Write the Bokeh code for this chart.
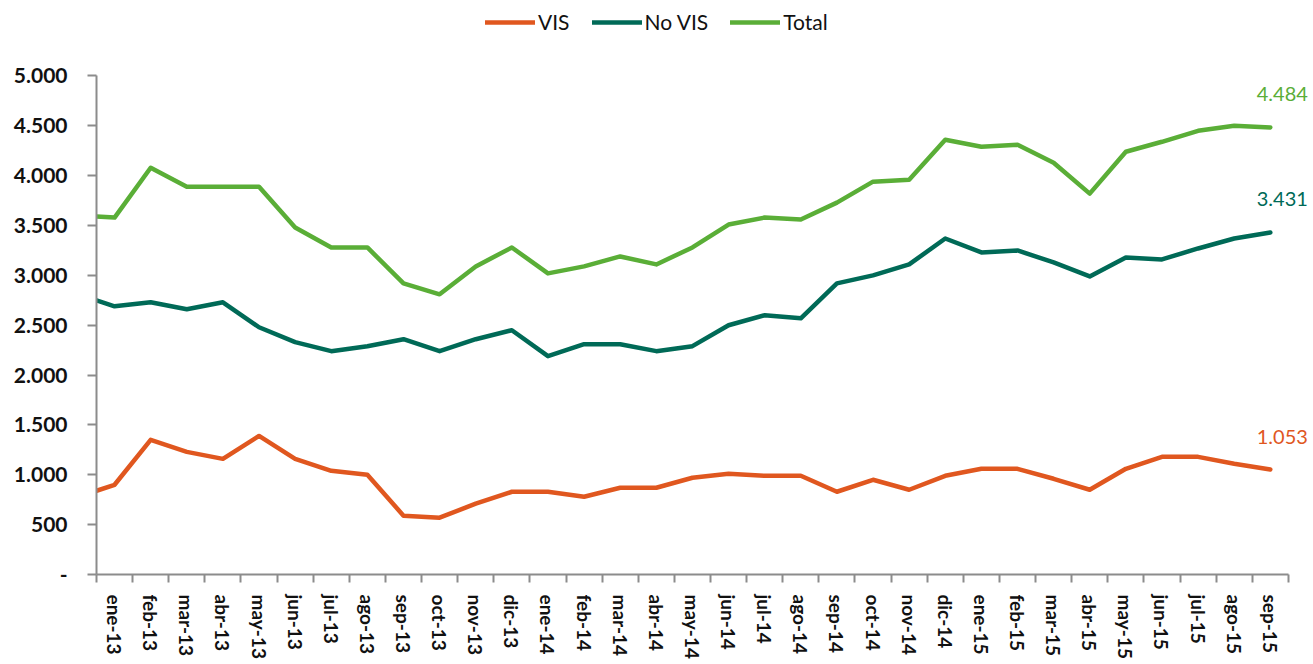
from bokeh.plotting import figure
from bokeh.models import Range1d, FixedTicker, Legend, LegendItem, Label
from bokeh.embed import file_html
from bokeh.resources import INLINE

# ---- data ----
months = ["ene-13", "feb-13", "mar-13", "abr-13", "may-13", "jun-13", "jul-13",
          "ago-13", "sep-13", "oct-13", "nov-13", "dic-13", "ene-14", "feb-14",
          "mar-14", "abr-14", "may-14", "jun-14", "jul-14", "ago-14", "sep-14",
          "oct-14", "nov-14", "dic-14", "ene-15", "feb-15", "mar-15", "abr-15",
          "may-15", "jun-15", "jul-15", "ago-15", "sep-15"]

# first value is the opening point drawn at the left edge of the axis
vis = [840, 900, 1350, 1230, 1160, 1390, 1160, 1040, 1000, 590, 570, 710, 830,
       830, 780, 870, 870, 970, 1010, 990, 990, 830, 950, 850, 990, 1060, 1060,
       960, 850, 1060, 1180, 1180, 1110, 1053]
no_vis = [2750, 2690, 2730, 2660, 2730, 2480, 2330, 2240, 2290, 2360, 2240, 2360,
          2450, 2190, 2310, 2310, 2240, 2290, 2500, 2600, 2570, 2920, 3000, 3110,
          3370, 3230, 3250, 3130, 2990, 3180, 3160, 3270, 3370, 3431]
total = [3590, 3580, 4080, 3890, 3890, 3890, 3480, 3280, 3280, 2920, 2810, 3090,
         3280, 3020, 3090, 3190, 3110, 3280, 3510, 3580, 3560, 3730, 3940, 3960,
         4360, 4290, 4310, 4130, 3820, 4240, 4340, 4450, 4500, 4484]

series_names = ["VIS", "No VIS", "Total"]
series_colors = ["#E0571F", "#006A57", "#5AAE37"]
y_ticks = list(range(0, 5001, 500))

x = [-0.5] + list(range(len(months)))

def fmt(v):
    return "-" if v == 0 else f"{v:,}".replace(",", ".")

FONT = "Lato"
GRAY = "#8C8C8C"

x_lo, x_hi = -0.5, len(months) - 0.5
y_lo, y_hi = 0, 5000

# frame is extended to the right and top (free space for legend & value labels);
# the axes themselves are bounded to the data extent
p = figure(width=1313, height=664, output_backend="svg", toolbar_location=None,
           x_range=Range1d(x_lo, 33.14), y_range=Range1d(y_lo, 5757),
           min_border_left=96, min_border_right=2, min_border_top=0,
           min_border_bottom=90)
p.outline_line_color = None
p.grid.visible = False
p.background_fill_color = "white"
p.border_fill_color = "white"

# x axis
p.xaxis.bounds = (x_lo, x_hi)
p.xaxis.ticker = FixedTicker(ticks=list(range(len(months))),
                             minor_ticks=[i - 0.5 for i in range(len(months) + 1)])
p.xaxis.major_label_overrides = {i: m for i, m in enumerate(months)}
p.xaxis.major_tick_out = 0
p.xaxis.major_tick_in = 0
p.xaxis.major_tick_line_color = None
p.xaxis.minor_tick_out = 8
p.xaxis.minor_tick_in = 0
p.xaxis.minor_tick_line_color = GRAY
p.xaxis.minor_tick_line_width = 2
p.xaxis.axis_line_color = GRAY
p.xaxis.axis_line_width = 2
p.xaxis.major_label_orientation = "vertical"
p.xaxis.major_label_standoff = 12
p.xaxis.major_label_text_font = FONT
p.xaxis.major_label_text_font_style = "bold"
p.xaxis.major_label_text_font_size = "19px"
p.xaxis.major_label_text_color = "#111111"

# y axis
p.yaxis.bounds = (y_lo, y_hi)
p.yaxis.ticker = FixedTicker(ticks=y_ticks, minor_ticks=[])
p.yaxis.major_label_overrides = {t: fmt(t) for t in y_ticks}
p.yaxis.major_tick_out = 9
p.yaxis.major_tick_in = 0
p.yaxis.major_tick_line_color = GRAY
p.yaxis.major_tick_line_width = 2
p.yaxis.minor_tick_line_color = None
p.yaxis.axis_line_color = GRAY
p.yaxis.axis_line_width = 2
p.yaxis.major_label_standoff = 20
p.yaxis.major_label_text_font = FONT
p.yaxis.major_label_text_font_style = "bold"
p.yaxis.major_label_text_font_size = "21px"
p.yaxis.major_label_text_color = "#111111"

items = []
for name, vals, col in zip(series_names, [vis, no_vis, total], series_colors):
    r = p.line(x, vals, line_color=col, line_width=4.5, line_join="round",
               line_cap="round")
    items.append(LegendItem(label=name, renderers=[r]))
    p.add_layout(Label(x=x[-1], y=vals[-1], text=fmt(vals[-1]), x_offset=12,
                       y_offset=33, text_align="center", text_baseline="middle",
                       text_color=col, text_font=FONT, text_font_size="20px"))

legend = Legend(items=items, orientation="horizontal", location=(389, 540),
                glyph_width=50, glyph_height=20, label_standoff=3, spacing=22,
                padding=0, margin=0, background_fill_alpha=0,
                border_line_color=None, label_text_font=FONT,
                label_text_font_size="21px", label_text_color="#111111")
p.add_layout(legend, "center")

open("out.html", "w").write(file_html(p, INLINE))
